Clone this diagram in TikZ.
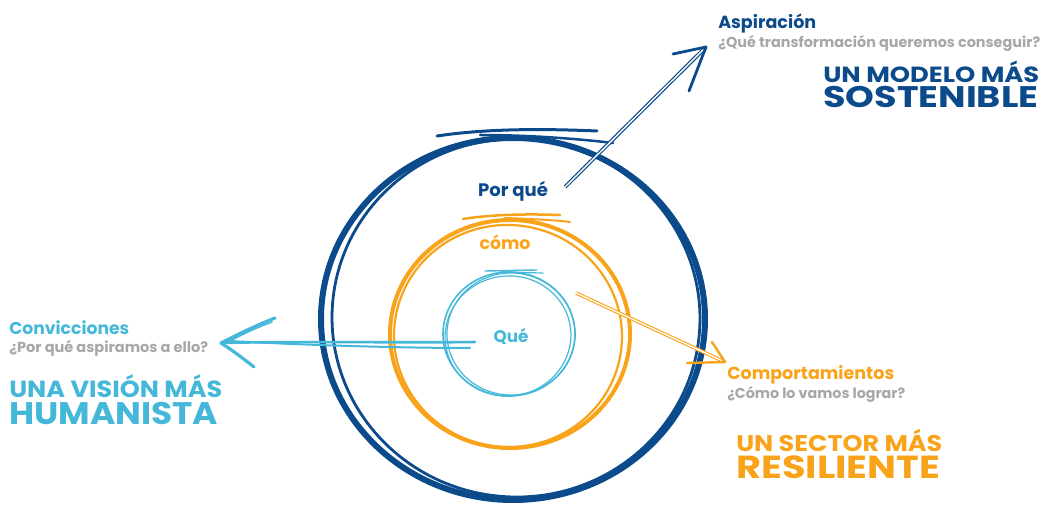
\documentclass[tikz,border=0pt]{standalone}
\usepackage{fontspec}
\setmainfont{Poppins}
\usepackage{graphicx}
\newlength\pxu \setlength\pxu{0.75pt}
\newcommand\fitw[2]{\resizebox{#1\pxu}{!}{#2}}
\newcommand\capbox[1]{\raisebox{0pt}[\fontcharht\font`H][0pt]{#1}}
\newcommand\fitwh[3]{\resizebox{#1\pxu}{#2\pxu}{\capbox{#3}}}
\definecolor{dblue}{HTML}{0B4A8B}
\definecolor{orng}{HTML}{F9A31A}
\definecolor{cyn}{HTML}{45B8DA}
\definecolor{gry}{HTML}{A7A7A7}
\tikzset{
  lbl/.style={inner sep=0pt, anchor=base west, font=\bfseries},
  ctr/.style={inner sep=0pt, anchor=base, font=\bfseries},
  ring/.style={line cap=round, line join=round},
  head/.style={line cap=round, line join=round},
}
\begin{document}
\begin{tikzpicture}[x=0.75pt,y=-0.75pt]
\useasboundingbox (0,0) rectangle (1043,509);

% ---------- outer blue ring (Por qué)
\draw[ring, dblue, line width=6\pxu] (513,319) ellipse [x radius=192, y radius=181];
\begin{scope}[rotate around={-4:(516,318)}]
\draw[ring, dblue, line width=2.8\pxu] (516,318) ellipse [x radius=184, y radius=179];
\end{scope}
\draw[ring, dblue, line width=3\pxu] (437,136) .. controls (490,128) and (550,129) .. (597,131);
\draw[ring, dblue, line width=2.5\pxu] (480,135) .. controls (530,135) and (580,139) .. (613,143);

% ---------- orange ring (cómo)
\draw[ring, orng, line width=4\pxu] (510,334) ellipse [x radius=120, y radius=114];
\begin{scope}[rotate around={-6:(508,336)}]
\draw[ring, orng, line width=2.2\pxu] (508,336) ellipse [x radius=114, y radius=111];
\end{scope}
\draw[ring, orng, line width=2.5\pxu] (463,219) .. controls (495,214) and (530,214) .. (560,215);
\draw[ring, orng, line width=2\pxu] (505,218) .. controls (530,219) and (555,220) .. (570,222);

% ---------- cyan ring (Qué)
\draw[ring, cyn, line width=1.6\pxu] (509,334) ellipse [x radius=66, y radius=62];
\begin{scope}[rotate around={10:(508,336)}]
\draw[ring, cyn, line width=1.2\pxu] (508,336) ellipse [x radius=63, y radius=60];
\end{scope}
\draw[ring, cyn, line width=1.2\pxu] (511,334) ellipse [x radius=64, y radius=61];
\draw[ring, cyn, line width=1.4\pxu] (485,271) -- (537,270);
\draw[ring, cyn, line width=1.2\pxu] (500,272) -- (543,273);

% ---------- ring labels
\node[ctr, text=dblue] (porque) at (513,197) {\fitw{70}{Por qué}};
\node[ctr, text=orng] (como) at (505,250) {\fitw{51}{cómo}};
\node[ctr, text=cyn] (que) at (511,343) {\fitw{35}{Qué}};

% ---------- side texts
\node[lbl, text=dblue] (asp) at (718,29) {\fitw{98}{Aspiración}};
\node[lbl, text=gry] (aspq) at (718,48) {\fitw{322}{¿Qué transformación queremos conseguir?}};
\node[lbl, text=dblue] (mod1) at (823,83) {\fitwh{216}{15.5}{UN MODELO MÁS}};
\node[lbl, text=dblue] (mod2) at (823,108) {\fitwh{215}{21}{SOSTENIBLE}};

\node[lbl, text=cyn] (conv) at (9,335) {\fitw{120}{Convicciones}};
\node[lbl, text=gry] (convq) at (9,353) {\fitw{199}{¿Por qué aspiramos a ello?}};
\node[lbl, text=cyn] (vis1) at (9,398) {\fitwh{213}{16.5}{UNA VISIÓN MÁS}};
\node[lbl, text=cyn] (vis2) at (9,425) {\fitwh{209}{22}{HUMANISTA}};

\node[lbl, text=orng] (comp) at (727,380) {\fitw{167}{Comportamientos}};
\node[lbl, text=gry] (compq) at (727,399) {\fitw{178}{¿Cómo lo vamos lograr?}};
\node[lbl, text=orng] (sec1) at (736,451) {\fitwh{206}{16}{UN SECTOR MÁS}};
\node[lbl, text=orng] (sec2) at (736,479) {\fitwh{204}{22.5}{RESILIENTE}};

% ---------- blue arrow (Aspiración)
\coordinate (bs) at (565,187);
\coordinate (bt) at (706,47);
\coordinate (bh1) at (673,54);
\coordinate (bh2) at (689,91);
\draw[dblue, line width=1.2\pxu, double=white, double distance=1.4\pxu] (bs) -- (bt);
\draw[head, dblue, line width=2.8\pxu] (bh1) -- (bt) -- (bh2);

% ---------- cyan arrow (Convicciones)
\coordinate (cs1) at (475,342);
\coordinate (cs2) at (470,348);
\coordinate (ct) at (221,343);
\coordinate (ch1) at (275,318);
\coordinate (ch2) at (254,367);
\draw[head, cyn, line width=2.6\pxu] (cs1) .. controls (400,343) and (300,341) .. (ct);
\draw[head, cyn, line width=2\pxu] (cs2) .. controls (400,348) and (300,345) .. (230,341);
\draw[head, cyn, line width=3.2\pxu] (ch1) .. controls (250,328) and (235,336) .. (ct) .. controls (235,352) and (245,360) .. (ch2);
\draw[head, cyn, line width=1.6\pxu] (272,322) .. controls (250,330) and (238,337) .. (226,343);

% ---------- orange arrow (Comportamientos)
\coordinate (os) at (576,293);
\coordinate (ot) at (725,362);
\coordinate (oh1) at (712,342);
\coordinate (oh2) at (687,363);
\draw[orng, line width=1.1\pxu, double=white, double distance=1.3\pxu] (os) -- (ot);
\draw[head, orng, line width=2.4\pxu] (oh1) -- (ot) -- (oh2);
\end{tikzpicture}
\end{document}
